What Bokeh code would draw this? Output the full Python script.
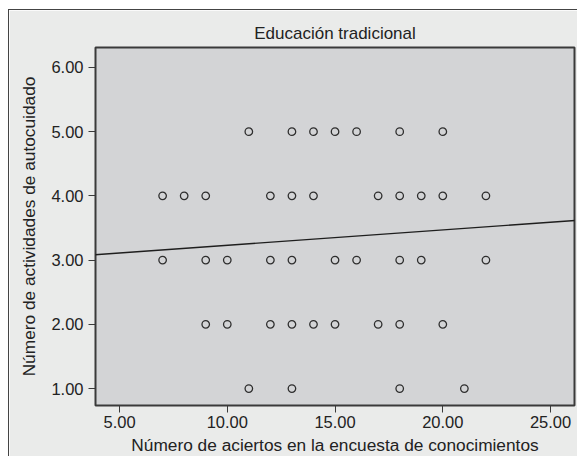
from bokeh.plotting import figure
from bokeh.models import Range1d, FixedTicker, Slope, CustomJSTickFormatter
from bokeh.embed import file_html
from bokeh.resources import INLINE

# ---- data ----
x_level5 = [11, 13, 14, 15, 16, 18, 20]
x_level4 = [7, 8, 9, 12, 13, 14, 17, 18, 19, 20, 22]
x_level3 = [7, 9, 10, 12, 13, 15, 16, 18, 19, 22]
x_level2 = [9, 10, 12, 13, 14, 15, 17, 18, 20]
x_level1 = [11, 13, 18, 21]
levels = [5, 4, 3, 2, 1]

fit_intercept = 2.99
fit_slope = 0.024

x_ticks = [5, 10, 15, 20, 25]
y_ticks = [1, 2, 3, 4, 5, 6]

title_text = "Educación tradicional"
x_label = "Número de aciertos en la encuesta de conocimientos"
y_label = "Número de actividades de autocuidado"

xs, ys = [], []
for lvl, arr in zip(levels, [x_level5, x_level4, x_level3, x_level2, x_level1]):
    xs.extend(arr)
    ys.extend([lvl] * len(arr))

FONT = "Liberation Sans"
TXT = "#222222"
DARK = "#3a3a3a"

p = figure(width=569, height=447, output_backend="svg", toolbar_location=None,
           x_range=Range1d(3.886, 26.11), y_range=Range1d(0.736, 6.31),
           min_border_left=86, min_border_right=4, min_border_top=37,
           min_border_bottom=51)
p.margin = (9, 0, 0, 8)
p.styles = {"border-left": "1px solid #444444", "border-top": "1px solid #444444"}

p.title.text = title_text
p.title.align = "center"
p.title.text_font = FONT
p.title.text_font_size = "17px"
p.title.text_font_style = "normal"
p.title.text_color = TXT

p.background_fill_color = "#d3d4d6"
p.border_fill_color = "#eaebea"
p.outline_line_color = DARK
p.outline_line_width = 2
p.grid.visible = False

for ax, ticks, lab in ((p.xaxis, x_ticks, x_label), (p.yaxis, y_ticks, y_label)):
    ax.ticker = FixedTicker(ticks=ticks)
    ax.minor_tick_line_color = None
    ax.axis_line_color = None
    ax.major_tick_in = 0
    ax.major_tick_out = 7
    ax.major_tick_line_color = DARK
    ax.major_tick_line_width = 1
    ax.major_label_text_font = FONT
    ax.major_label_text_font_size = "16.5px"
    ax.major_label_text_color = TXT
    ax.axis_label = lab
    ax.axis_label_text_font = FONT
    ax.axis_label_text_font_size = "17.3px"
    ax.axis_label_text_font_style = "normal"
    ax.axis_label_text_color = TXT
    ax.formatter = CustomJSTickFormatter(code="return tick.toFixed(2);")

p.xaxis.major_label_standoff = 3
p.xaxis.axis_label_standoff = 4
p.yaxis.major_label_standoff = 5
p.yaxis.axis_label_standoff = 9

p.scatter(xs, ys, size=7.5, marker="circle", fill_color=None,
          line_color="#2e2e2e", line_width=1.3)

p.add_layout(Slope(gradient=fit_slope, y_intercept=fit_intercept,
                   line_color="#1e1e1e", line_width=1.4))

open("out.html", "w").write(file_html(p, INLINE))
